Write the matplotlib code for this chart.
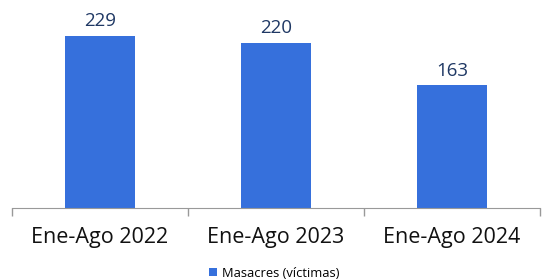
import matplotlib.pyplot as plt

categories = ['Ene-Ago 2022', 'Ene-Ago 2023', 'Ene-Ago 2024']
victimas = [229, 220, 163]
serie = 'Masacres (víctimas)'

plt.rcParams['font.family'] = ['Open Sans', 'DejaVu Sans']

fig = plt.figure(figsize=(5.49, 2.79), dpi=100)
ax = fig.add_axes([0.0219, 0.2545, 0.9617, 0.674])

x = range(len(categories))
bars = ax.bar(x, victimas, width=0.40, color='#3670DC', label=serie)

# value labels above bars
for b, v in zip(bars, victimas):
    ax.text(b.get_x() + b.get_width() / 2, v + 13, str(v), ha='center', va='baseline',
            fontsize=13.5, color='#1F3864')

ax.set_xlim(-0.5, 2.5)
ax.set_ylim(0, 250)

ax.set_xticks(list(x))
ax.set_xticklabels(categories, fontsize=15.5, color='#111111')
ax.tick_params(axis='x', which='major', length=0, pad=14)
ax.set_xticks([-0.5, 0.5, 1.5, 2.5], minor=True)
ax.tick_params(axis='x', which='minor', length=6, color='#999999', width=1)
ax.set_yticks([])

for s in ['top', 'right', 'left']:
    ax.spines[s].set_visible(False)
ax.spines['bottom'].set_color('#999999')

fig.legend(handles=[bars], labels=[serie], loc='center', bbox_to_anchor=(0.5, 0.02),
           frameon=False, fontsize=9.3, handlelength=0.6, handleheight=0.6,
           handletextpad=0.4)

fig.savefig('out.png', dpi=100)
